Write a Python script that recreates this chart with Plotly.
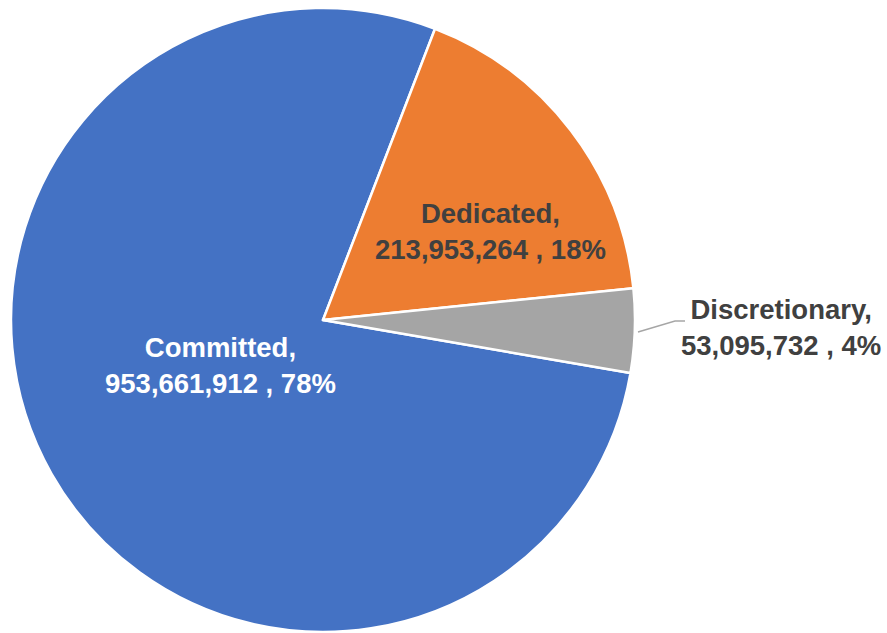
import plotly.graph_objects as go

# Budget split by category
categories = ["Committed", "Dedicated", "Discretionary"]
amounts = [953661912, 213953264, 53095732]
slice_colors = ["#4472C4", "#ED7D31", "#A5A5A5"]
label_colors = ["#FFFFFF", "#404040", "#404040"]

W, H = 887, 633
total = sum(amounts)


def px(x, y):
    """Convert pixel position to paper coordinates."""
    return x / W, 1 - y / H


def label_text(name, value):
    pct = round(100 * value / total)
    return f"<b>{name},<br>{value:,} , {pct}%</b>"


fig = go.Figure(
    go.Pie(
        labels=categories,
        values=amounts,
        sort=False,
        direction="clockwise",
        rotation=99.8,
        marker=dict(colors=slice_colors, line=dict(color="#FFFFFF", width=2.5)),
        textinfo="none",
        hoverinfo="label+value+percent",
        showlegend=False,
        domain=dict(x=[11 / W, 635 / W], y=[1 - 632 / H, 1 - 8 / H]),
    )
)

# Label anchor points (pixel centres of each text block)
label_pos = [(220, 365), (490, 232), (781, 328)]
for name, value, color, (lx, ly) in zip(categories, amounts, label_colors, label_pos):
    ax, ay = px(lx, ly)
    fig.add_annotation(
        x=ax, y=ay, xref="paper", yref="paper",
        text=label_text(name, value),
        showarrow=False, xanchor="center", yanchor="middle",
        align="center",
        font=dict(family="Liberation Sans, Arial, sans-serif", size=27.5, color=color),
    )

# Leader line for the outside label
pts = [px(638, 332), px(675, 321), px(685, 321)]
path = "M {} {} L {} {} L {} {}".format(*[c for p in pts for c in p])
fig.add_shape(type="path", path=path, xref="paper", yref="paper",
              line=dict(color="#A6A6A6", width=1.5))

fig.update_layout(
    width=W, height=H,
    margin=dict(l=0, r=0, t=0, b=0),
    paper_bgcolor="#FFFFFF",
    plot_bgcolor="#FFFFFF",
)

fig.write_html("out.html")
